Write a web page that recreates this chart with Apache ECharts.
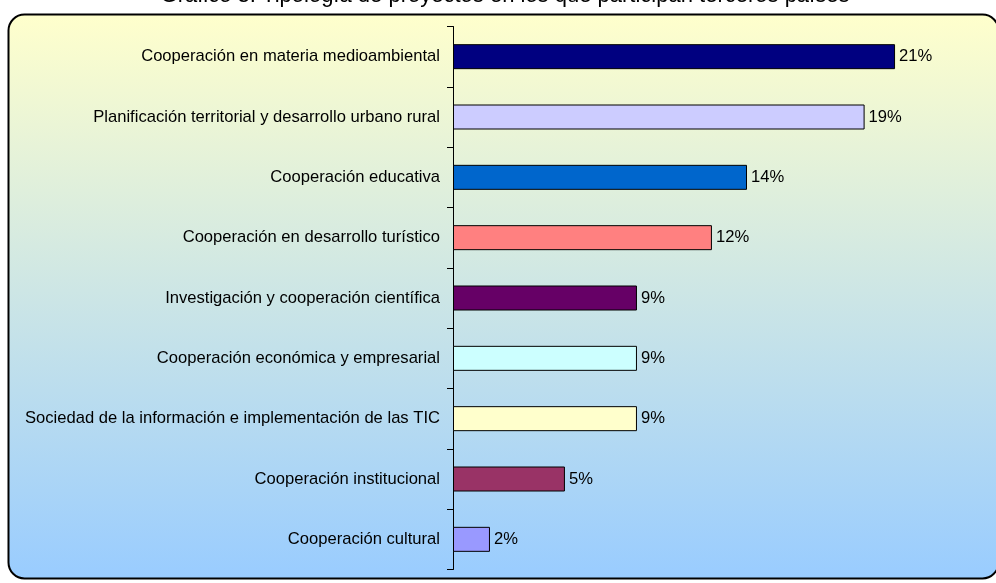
<!DOCTYPE html>
<html>
<head>
<meta charset="utf-8">
<script src="https://cdn.jsdelivr.net/npm/echarts@6/dist/echarts.min.js"></script>
<style>
html,body{margin:0;padding:0;background:#fff;}
#c{width:996px;height:583px;}
</style>
</head>
<body>
<div id="c"></div>
<script>
const titleText = 'Gráfico 3: Tipología de proyectos en los que participan terceros países';
const categories = [
  'Cooperación en materia medioambiental',
  'Planificación territorial y desarrollo urbano rural',
  'Cooperación educativa',
  'Cooperación en desarrollo turístico',
  'Investigación y cooperación científica',
  'Cooperación económica y empresarial',
  'Sociedad de la información e implementación de las TIC',
  'Cooperación institucional',
  'Cooperación cultural'
];
const values = [21.05, 19.6, 14.0, 12.33, 8.76, 8.76, 8.76, 5.33, 1.76];
const percentLabels = ['21%', '19%', '14%', '12%', '9%', '9%', '9%', '5%', '2%'];
const barColors = ['#000080', '#CCCCFF', '#0066CC', '#FF8080', '#660066', '#CCFFFF', '#FFFFCC', '#993366', '#9999FF'];

const chart = echarts.init(document.getElementById('c'), null, {renderer: 'canvas'});
const FONT = '"Liberation Sans", Arial, sans-serif';

chart.setOption({
  animation: false,
  graphic: [
    {
      type: 'rect', z: -10, silent: true,
      shape: {x: 8.5, y: 14.5, width: 990, height: 564, r: 16},
      style: {
        fill: new echarts.graphic.LinearGradient(0, 0, 0, 1, [
          {offset: 0, color: '#FFFFCC'},
          {offset: 1, color: '#99CCFF'}
        ]),
        stroke: '#000', lineWidth: 2
      }
    },
    {
      type: 'text', silent: true,
      style: {
        x: 505, y: 7, text: titleText, align: 'center', verticalAlign: 'bottom',
        font: '22px ' + FONT, fill: '#000'
      }
    }
  ],
  grid: {left: 453, top: 26.5, width: 525, height: 543, containLabel: false},
  xAxis: {
    type: 'value', min: 0, max: 25, show: false,
    splitLine: {show: false}
  },
  yAxis: {
    type: 'category', data: categories, inverse: true,
    axisLine: {show: true, lineStyle: {color: '#000', width: 1}},
    axisTick: {show: true, length: 6, lineStyle: {color: '#000'}},
    axisLabel: {color: '#000', fontSize: 16.6, fontFamily: FONT, margin: 13}
  },
  series: [{
    type: 'bar',
    data: values.map((v, i) => ({value: v, itemStyle: {color: barColors[i]}})),
    barWidth: 25,
    itemStyle: {borderColor: '#000', borderWidth: 1},
    label: {
      show: true, position: 'right', distance: 4,
      color: '#000', fontSize: 16.6, fontFamily: FONT,
      formatter: p => percentLabels[p.dataIndex]
    }
  }]
});
</script>
</body>
</html>
